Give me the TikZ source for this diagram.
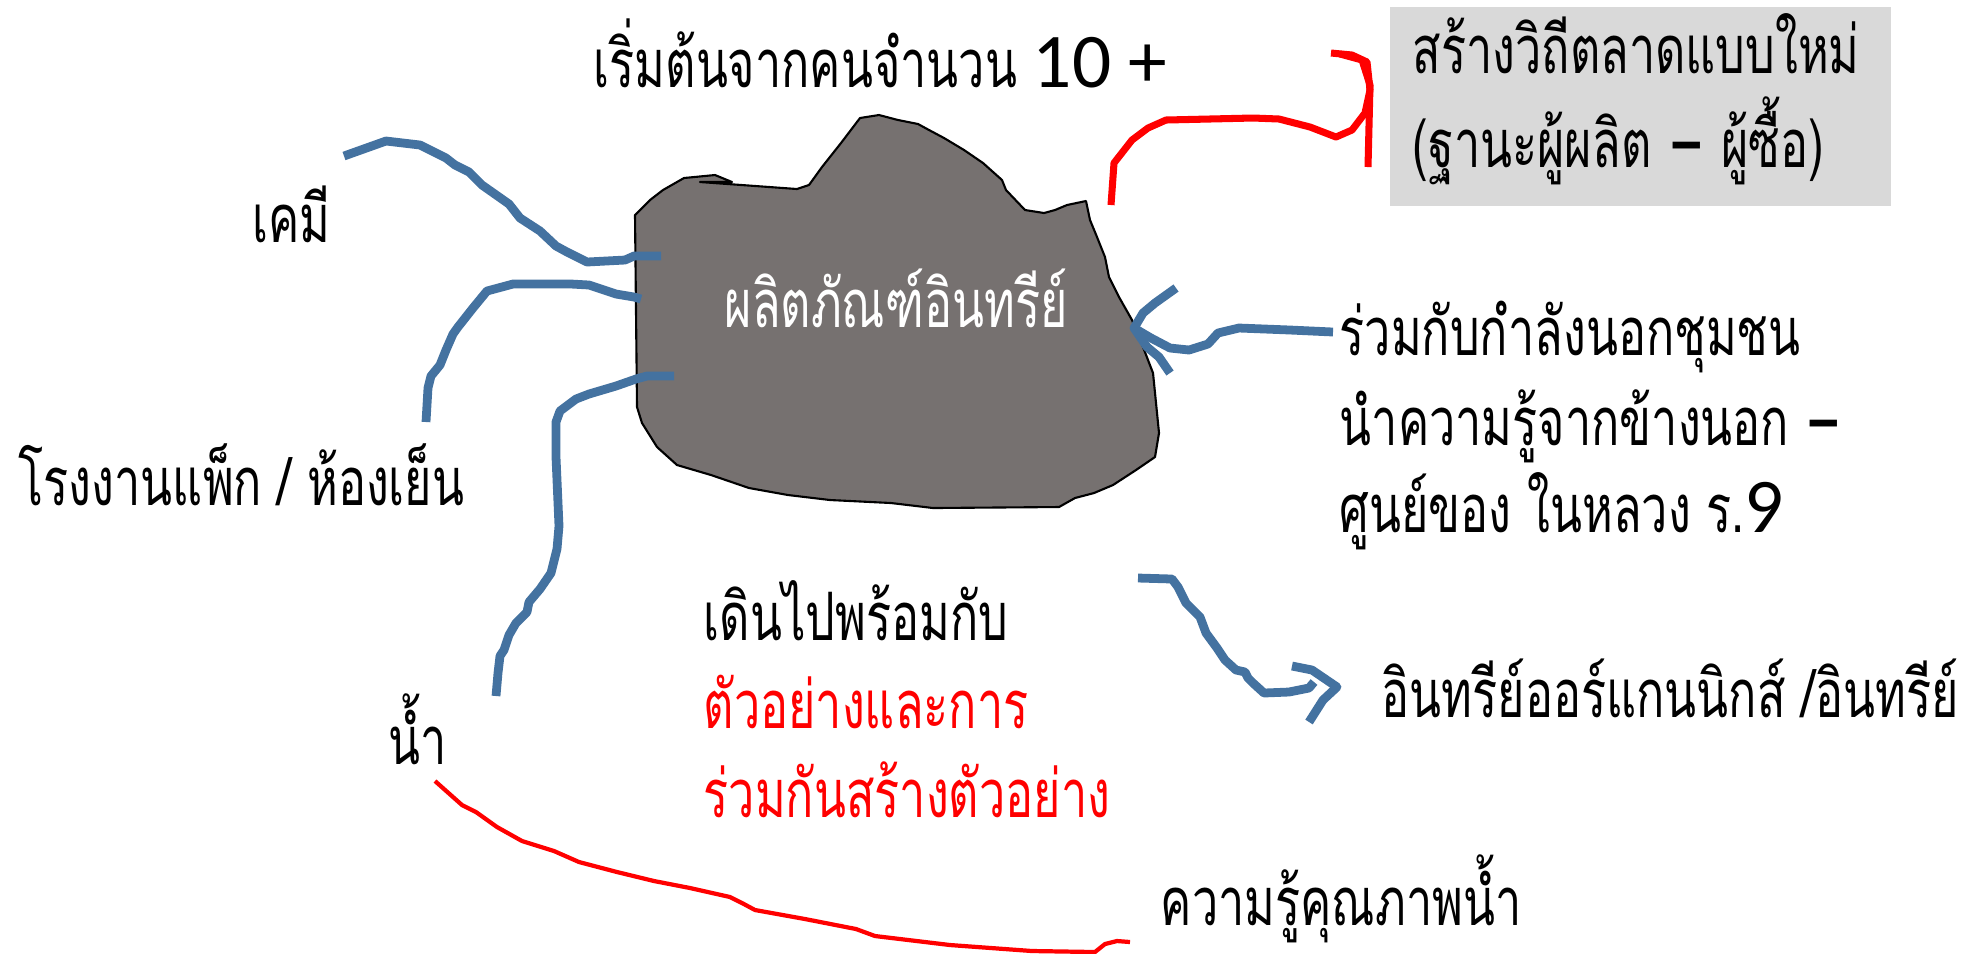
\documentclass[tikz,border=0pt]{standalone}
\usepackage{fontspec}
\setmainfont{Carlito}
\newfontfamily\thai[Script=Thai,FakeStretch=0.70]{Loma}
\newcommand\latn[1]{{\rmfamily\fontsize{22}{26}\selectfont #1}}
\definecolor{rootblue}{RGB}{68,114,160}
\definecolor{blobgray}{RGB}{118,113,112}
\definecolor{boxgray}{RGB}{217,217,217}

\begin{document}
\begin{tikzpicture}[x=0.01cm,y=-0.01cm]
  \tikzset{thtxt/.style={anchor=base west,inner sep=0pt,font=\thai\fontsize{19}{23}\selectfont},
           root/.style={draw=rootblue,line width=2.5pt,line join=round},
           pen/.style={draw=red,line width=2pt,line join=round}}
  \useasboundingbox (0,0) rectangle (1973,953);
  % the product
  \filldraw[fill=blobgray,draw=black,line width=0.6pt,line join=round]
    (635,215) -- (650,200) -- (663,190) -- (684,178) -- (715,175) -- (732,182) -- (700,182)
    -- (797,189) -- (809,185) -- (822,167) -- (841,143) -- (860,118) -- (879,115) -- (898,120)
    -- (918,124) -- (929,130) -- (944,138) -- (964,150) -- (983,163) -- (1002,180) -- (1006,190)
    -- (1025,210) -- (1044,213) -- (1055,210) -- (1067,205) -- (1086,201) -- (1090,220)
    -- (1097,237) -- (1105,257) -- (1109,277) -- (1119,297) -- (1132,320) -- (1143,347)
    -- (1153,373) -- (1157,413) -- (1159,433) -- (1155,457) -- (1136,470) -- (1113,485)
    -- (1094,493) -- (1075,498) -- (1059,507) -- (933,508) -- (891,503) -- (830,500)
    -- (788,495) -- (749,488) -- (711,475) -- (677,465) -- (657,447) -- (642,423) -- (637,407) -- cycle;
  \node[thtxt,text=white] (prod) at (724,327) {ผลิตภัณฑ์อินทรีย์};

  % labels
  \node[thtxt] (start) at (593,87) {เริ่มต้นจากคนจำนวน \latn{10 +}};
  \node[fill=boxgray,anchor=north west,minimum width=5.01cm,minimum height=1.99cm] (market) at (1389,6) {};
  \node[thtxt] (market1) at (1412,73) {สร้างวิถีตลาดแบบใหม่};
  \node[thtxt] (market2) at (1412,167) {(ฐานะผู้ผลิต \latn{\bfseries –} ผู้ซื้อ)};
  \node[thtxt] (chem) at (252,242) {เคมี};
  \node[thtxt] (pack) at (18,505) {โรงงานแพ็ก / ห้องเย็น};
  \node[thtxt] (water) at (388,764) {น้ำ};
  \node[thtxt] (walk) at (703,640) {เดินไปพร้อมกับ};
  \node[thtxt,text=red] (model1) at (703,728) {ตัวอย่างและการ};
  \node[thtxt,text=red] (model2) at (703,817) {ร่วมกันสร้างตัวอย่าง};
  \node[thtxt] (quality) at (1160,925) {ความรู้คุณภาพน้ำ};
  \node[thtxt] (organic) at (1381,717) {อินทรีย์ออร์แกนนิกส์ /อินทรีย์};
  \node[thtxt] (ext1) at (1339,355) {ร่วมกับกำลังนอกชุมชน};
  \node[thtxt] (ext2) at (1339,445) {นำความรู้จากข้างนอก \latn{\bfseries –}};
  \node[thtxt] (ext3) at (1339,532) {ศูนย์ของ ในหลวง ร.\latn{9}};

  % roots into the product
  \coordinate (chem-in) at (661,256);
  \coordinate (pack-in) at (641,299);
  \coordinate (water-in) at (674,376);
  \coordinate (ext-tip) at (1134,328);
  \draw[root] (chem-in) -- (634,256) -- (625,260) -- (587,262) -- (567,252) -- (556,246) -- (540,231)
    -- (520,218) -- (509,204) -- (482,185) -- (469,172) -- (455,165) -- (446,158) -- (420,145)
    -- (386,141) -- (344,156);
  \draw[root] (pack-in) -- (634,297) -- (616,294) -- (589,285) -- (571,284) -- (513,284) -- (487,291)
    -- (473,308) -- (458,327) -- (453,334) -- (446,350) -- (440,365) -- (431,376) -- (428,388) -- (426,422);
  \draw[root] (water-in) -- (647,376) -- (636,379) -- (616,386) -- (589,394) -- (576,399) -- (560,411)
    -- (556,422) -- (556,457) -- (558,503) -- (559,526) -- (557,549) -- (551,573) -- (540,589)
    -- (529,602) -- (527,612) -- (516,623) -- (509,635) -- (504,650) -- (500,656) -- (498,673) -- (496,696);
  \draw[root] (1333,332) -- (1290,330) -- (1239,328) -- (1218,333) -- (1208,344) -- (1189,350)
    -- (1170,348) -- (1151,338) -- (ext-tip);
  \draw[root] (1176,288) -- (1155,303) -- (1143,313) -- (ext-tip) -- (1147,347) -- (1159,357) -- (1170,373);

  % out of the product
  \coordinate (org-tip) at (1337,687);
  \draw[root] (1138,578) -- (1172,579) -- (1178,587) -- (1186,603) -- (1200,617) -- (1206,633)
    -- (1217,648) -- (1225,660) -- (1236,670) -- (1245,672) -- (1248,678) -- (1253,683) -- (1264,693)
    -- (1289,692) -- (1309,688) -- (1314,682);
  \draw[root] (1292,666) -- (1312,670) -- (org-tip) -- (1323,700) -- (1309,722);

  % red pen
  \draw[pen] (1111,205) -- (1114,163) -- (1132,140) -- (1148,128) -- (1166,120) -- (1253,118)
    -- (1279,119) -- (1310,127) -- (1336,137) -- (1352,130) -- (1365,113) -- (1370,90) -- (1367,62)
    -- (1352,55) -- (1331,53);
  \draw[pen] (1340,54) -- (1362,60) -- (1370,85) -- (1368,167);
  \draw[pen,line width=1.2pt] (435,781) -- (453,797) -- (462,805) -- (476,812) -- (497,827) -- (522,841)
    -- (554,851) -- (579,862) -- (617,872) -- (654,881) -- (690,888) -- (730,897) -- (742,903)
    -- (755,910) -- (805,919) -- (856,929) -- (875,936) -- (950,945) -- (1032,951) -- (1095,952)
    -- (1105,944) -- (1117,941) -- (1130,942);
\end{tikzpicture}
\end{document}
